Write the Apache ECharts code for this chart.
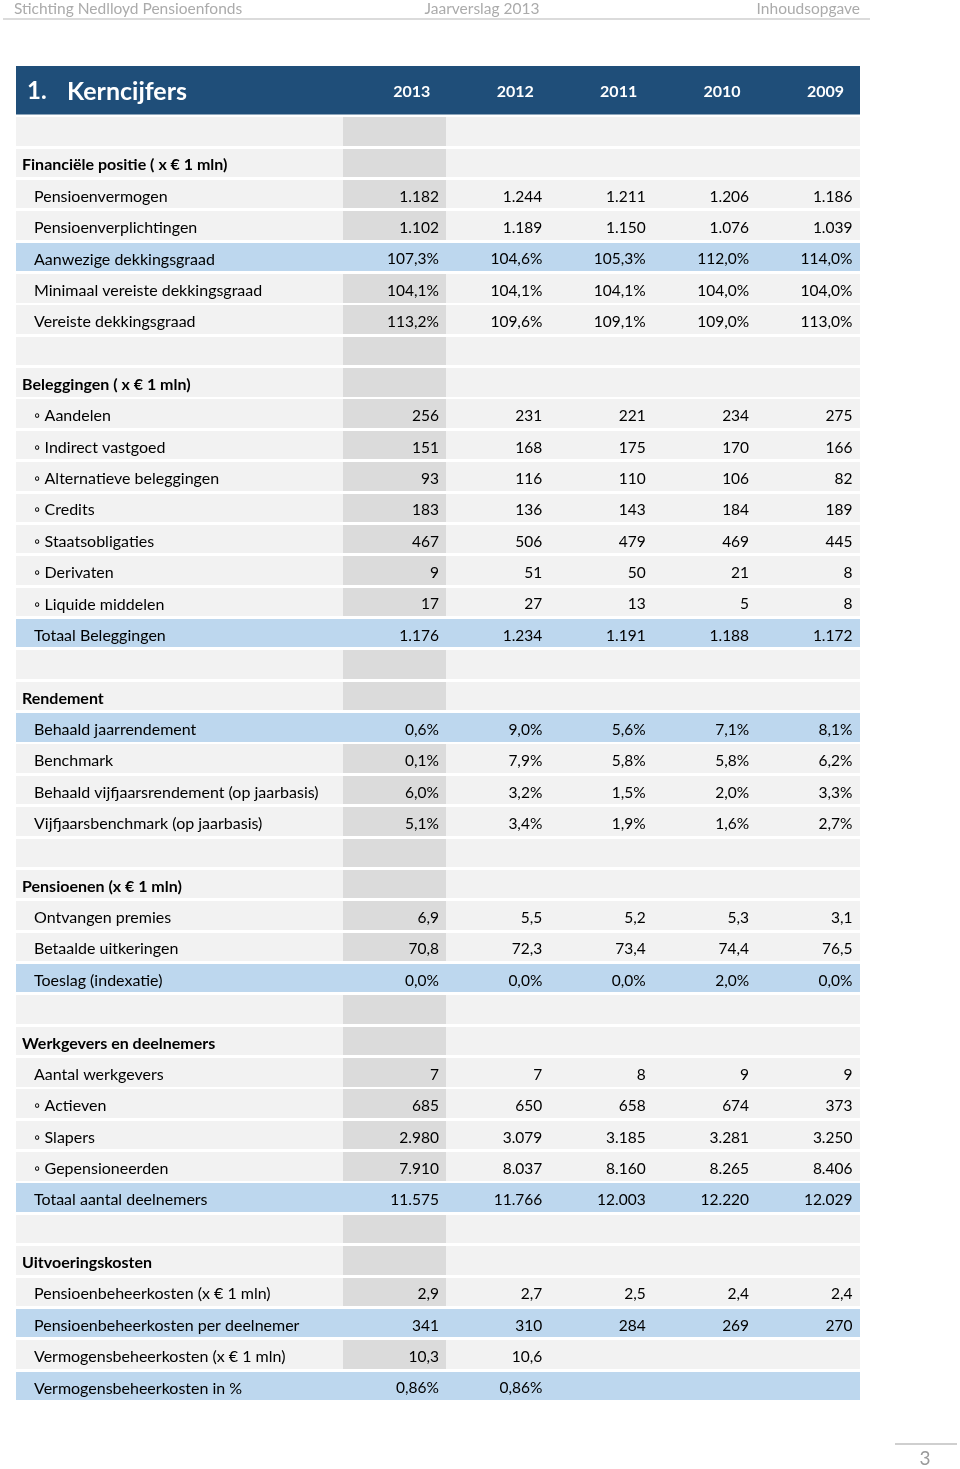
<!DOCTYPE html>
<html>
<head>
<meta charset="utf-8">
<script src="https://cdn.jsdelivr.net/npm/echarts@6/dist/echarts.min.js"></script>
<style>
html,body{margin:0;padding:0;background:#fff;}
#c{width:960px;height:1469px;}
</style>
</head>
<body>
<div id="c"></div>
<script>
// ---------- DATA ----------
const years = ['2013', '2012', '2011', '2010', '2009'];

const rowLabels = [
  '', 'Financiële positie ( x € 1 mln)', 'Pensioenvermogen', 'Pensioenverplichtingen',
  'Aanwezige dekkingsgraad', 'Minimaal vereiste dekkingsgraad', 'Vereiste dekkingsgraad',
  '', 'Beleggingen ( x € 1 mln)', 'Aandelen', 'Indirect vastgoed', 'Alternatieve beleggingen',
  'Credits', 'Staatsobligaties', 'Derivaten', 'Liquide middelen', 'Totaal Beleggingen',
  '', 'Rendement', 'Behaald jaarrendement', 'Benchmark',
  'Behaald vijfjaarsrendement (op jaarbasis)', 'Vijfjaarsbenchmark (op jaarbasis)',
  '', 'Pensioenen (x € 1 mln)', 'Ontvangen premies', 'Betaalde uitkeringen', 'Toeslag (indexatie)',
  '', 'Werkgevers en deelnemers', 'Aantal werkgevers', 'Actieven', 'Slapers', 'Gepensioneerden',
  'Totaal aantal deelnemers',
  '', 'Uitvoeringskosten', 'Pensioenbeheerkosten (x € 1 mln)', 'Pensioenbeheerkosten per deelnemer',
  'Vermogensbeheerkosten (x € 1 mln)', 'Vermogensbeheerkosten in %'
];

// empty / section / item / bullet / total
const rowTypes = [
  'empty', 'section', 'item', 'item', 'total', 'item', 'item',
  'empty', 'section', 'bullet', 'bullet', 'bullet', 'bullet', 'bullet', 'bullet', 'bullet', 'total',
  'empty', 'section', 'total', 'item', 'item', 'item',
  'empty', 'section', 'item', 'item', 'total',
  'empty', 'section', 'item', 'bullet', 'bullet', 'bullet', 'total',
  'empty', 'section', 'item', 'total', 'item', 'total'
];

// int = thousands with '.', dec1 = one decimal with ',', pct1 / pct2 = percentage
const rowFormats = [
  '', '', 'int', 'int', 'pct1', 'pct1', 'pct1',
  '', '', 'int', 'int', 'int', 'int', 'int', 'int', 'int', 'int',
  '', '', 'pct1', 'pct1', 'pct1', 'pct1',
  '', '', 'dec1', 'dec1', 'pct1',
  '', '', 'int', 'int', 'int', 'int', 'int',
  '', '', 'dec1', 'int', 'dec1', 'pct2'
];

const values2013 = [null, null, 1182, 1102, 107.3, 104.1, 113.2,
  null, null, 256, 151, 93, 183, 467, 9, 17, 1176,
  null, null, 0.6, 0.1, 6.0, 5.1,
  null, null, 6.9, 70.8, 0.0,
  null, null, 7, 685, 2980, 7910, 11575,
  null, null, 2.9, 341, 10.3, 0.86];
const values2012 = [null, null, 1244, 1189, 104.6, 104.1, 109.6,
  null, null, 231, 168, 116, 136, 506, 51, 27, 1234,
  null, null, 9.0, 7.9, 3.2, 3.4,
  null, null, 5.5, 72.3, 0.0,
  null, null, 7, 650, 3079, 8037, 11766,
  null, null, 2.7, 310, 10.6, 0.86];
const values2011 = [null, null, 1211, 1150, 105.3, 104.1, 109.1,
  null, null, 221, 175, 110, 143, 479, 50, 13, 1191,
  null, null, 5.6, 5.8, 1.5, 1.9,
  null, null, 5.2, 73.4, 0.0,
  null, null, 8, 658, 3185, 8160, 12003,
  null, null, 2.5, 284, null, null];
const values2010 = [null, null, 1206, 1076, 112.0, 104.0, 109.0,
  null, null, 234, 170, 106, 184, 469, 21, 5, 1188,
  null, null, 7.1, 5.8, 2.0, 1.6,
  null, null, 5.3, 74.4, 2.0,
  null, null, 9, 674, 3281, 8265, 12220,
  null, null, 2.4, 269, null, null];
const values2009 = [null, null, 1186, 1039, 114.0, 104.0, 113.0,
  null, null, 275, 166, 82, 189, 445, 8, 8, 1172,
  null, null, 8.1, 6.2, 3.3, 2.7,
  null, null, 3.1, 76.5, 0.0,
  null, null, 9, 373, 3250, 8406, 12029,
  null, null, 2.4, 270, null, null];

const yearValues = [values2013, values2012, values2011, values2010, values2009];

// ---------- STYLE ----------
const FONT = 'Lato, "Open Sans", sans-serif';
const C_HEAD = '#1F4E79';
const C_BLUE = '#BDD7EE';
const C_GRAY = '#F2F2F2';
const C_DARK = '#DBDBDB';
const GAP = 2.9;

function fmt(v, f) {
  if (v === null || v === undefined) return '';
  if (f === 'int') return String(Math.round(v)).replace(/\B(?=(\d{3})+(?!\d))/g, '.');
  if (f === 'dec1') return v.toFixed(1).replace('.', ',');
  if (f === 'pct1') return v.toFixed(1).replace('.', ',') + '%';
  if (f === 'pct2') return v.toFixed(2).replace('.', ',') + '%';
  return String(v);
}

const rowIdx = rowLabels.map((_, i) => i);

const labelData = rowIdx.map(i => [0, i]);
const cellData = [];
years.forEach((y, c) => rowIdx.forEach(r => cellData.push([c, r])));

const chart = echarts.init(document.getElementById('c'), null, {renderer: 'canvas'});

const TOP = 115.8, PITCH = 31.36;
const gridH = PITCH * rowLabels.length;

function cellRect(p, s) {
  const x1 = Math.round(p[0] - s[0] / 2), x2 = Math.round(p[0] + s[0] / 2);
  const y1 = Math.round(p[1] - s[1] / 2 + GAP / 2), y2 = Math.round(p[1] + s[1] / 2 - GAP / 2);
  return {x: x1, y: y1, width: x2 - x1, height: y2 - y1};
}

chart.setOption({
  animation: false,
  backgroundColor: '#ffffff',
  grid: [
    {left: 16, width: 327, top: TOP, height: gridH},
    {left: 343, width: 517, top: TOP, height: gridH}
  ],
  xAxis: [
    {gridIndex: 0, type: 'category', data: ['label'], show: false},
    {gridIndex: 1, type: 'category', data: years, show: false}
  ],
  yAxis: [
    {gridIndex: 0, type: 'category', data: rowIdx, inverse: true, show: false},
    {gridIndex: 1, type: 'category', data: rowIdx, inverse: true, show: false}
  ],
  series: [
    {
      type: 'custom', xAxisIndex: 0, yAxisIndex: 0, data: labelData,
      renderItem: function (params, api) {
        const r = api.value(1);
        const p = api.coord([0, r]);
        const s = api.size([1, 1]);
        const t = rowTypes[r];
        const rect = cellRect(p, s);
        const children = [{
          type: 'rect', shape: rect,
          style: {fill: t === 'total' ? C_BLUE : C_GRAY}
        }];
        if (t !== 'empty') {
          let txt = rowLabels[r];
          let ix = 18;
          if (t === 'section') ix = 6;
          if (t === 'bullet') txt = '◦ ' + txt;
          children.push({
            type: 'text',
            style: {
              text: txt, x: rect.x + ix, y: p[1] + 2.5,
              verticalAlign: 'middle', align: 'left',
              fill: '#000', font: (t === 'section' ? 'bold ' : '') + '16px ' + FONT
            }
          });
        }
        return {type: 'group', children: children};
      }
    },
    {
      type: 'custom', xAxisIndex: 1, yAxisIndex: 1, data: cellData,
      renderItem: function (params, api) {
        const c = api.value(0);
        const r = api.value(1);
        const p = api.coord([c, r]);
        const s = api.size([1, 1]);
        const t = rowTypes[r];
        const fill = t === 'total' ? C_BLUE : (c === 0 ? C_DARK : C_GRAY);
        const rect = cellRect(p, s);
        const children = [{type: 'rect', shape: rect, style: {fill: fill}}];
        const txt = fmt(yearValues[c][r], rowFormats[r]);
        if (txt) {
          children.push({
            type: 'text',
            style: {
              text: txt, x: p[0] + s[0] / 2 - 7.5, y: p[1] + 2.5,
              verticalAlign: 'middle', align: 'right',
              fill: '#000', font: '15.5px ' + FONT
            }
          });
        }
        return {type: 'group', children: children};
      }
    }
  ]
});

// Header bar, page header and footer
const graphics = [
  {type: 'rect', shape: {x: 16, y: 66, width: 844, height: 48.5}, style: {fill: C_HEAD}},
  {type: 'text', style: {text: '1.', x: 27, y: 91.5, verticalAlign: 'middle', fill: '#fff', font: 'bold 24px ' + FONT}},
  {type: 'text', style: {text: 'Kerncijfers', x: 67, y: 91.5, verticalAlign: 'middle', fill: '#fff', font: 'bold 25px ' + FONT}},
  {type: 'text', style: {text: 'Stichting Nedlloyd Pensioenfonds', x: 14, y: 9, verticalAlign: 'middle', fill: '#ababab', font: '15.5px ' + FONT}},
  {type: 'text', style: {text: 'Jaarverslag 2013', x: 482, y: 9, verticalAlign: 'middle', align: 'center', fill: '#ababab', font: '15.5px ' + FONT}},
  {type: 'text', style: {text: 'Inhoudsopgave', x: 860, y: 9, verticalAlign: 'middle', align: 'right', fill: '#ababab', font: '15.5px ' + FONT}},
  {type: 'line', shape: {x1: 3, y1: 19, x2: 870, y2: 19}, style: {stroke: '#cfcfcf', lineWidth: 1.5}},
  {type: 'line', shape: {x1: 895, y1: 1444, x2: 957, y2: 1444}, style: {stroke: '#a0a0a0', lineWidth: 1.2}},
  {type: 'text', style: {text: '3', x: 925, y: 1459, verticalAlign: 'middle', align: 'center', fill: '#9a9a9a', font: '19px ' + FONT}}
];
years.forEach((y, i) => {
  const p = chart.convertToPixel({xAxisIndex: 1, yAxisIndex: 1}, [i, 0]);
  const halfW = 517 / years.length / 2;
  graphics.push({type: 'text', style: {text: y, x: p[0] + halfW - 16, y: 91.5, verticalAlign: 'middle', align: 'right', fill: '#fff', font: 'bold 16px ' + FONT}});
});
chart.setOption({graphic: graphics});
</script>
</body>
</html>
